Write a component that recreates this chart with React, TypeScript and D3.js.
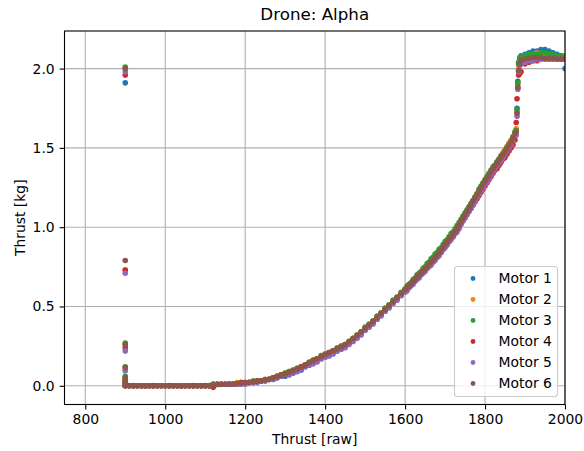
import React, { useEffect, useRef } from "react";
import * as d3 from "d3";

// raw thrust command values shared by all motors
const thrustRaw = [
  900, 910, 920, 930, 940, 950, 960, 970, 980, 990, 1000, 1010, 1020, 1030, 1040, 1050, 1060, 1070, 1080, 1090, 1100, 1110,
  1120, 1130, 1140, 1150, 1160, 1170, 1180, 1190, 1200, 1210, 1220, 1230, 1240, 1250, 1260, 1270, 1280, 1290, 1300,
  1310, 1320, 1330, 1340, 1350, 1360, 1370, 1380, 1390, 1400, 1410, 1420, 1430, 1440, 1450, 1460, 1470, 1480, 1490, 1500,
  1510, 1520, 1530, 1540, 1550, 1560, 1570, 1580, 1590, 1600,
  1605, 1610, 1615, 1620, 1625, 1630, 1635, 1640, 1645, 1650, 1655, 1660, 1665, 1670, 1675, 1680, 1685, 1690, 1695, 1700,
  1705, 1710, 1715, 1720, 1725, 1730, 1735, 1740, 1745, 1750, 1755, 1760, 1765, 1770, 1775, 1780, 1785, 1790, 1795, 1800,
  1805, 1810, 1815, 1820, 1825, 1830, 1835, 1840, 1845, 1850, 1855, 1860, 1865, 1870, 1875,
  1890, 1900, 1910, 1920, 1930, 1940, 1950, 1960, 1970, 1980, 1990, 2000,
];

const motor1Kg = [
  0, 0, 0, 0, 0, 0, 0, 0, 0, 0, 0, 0, 0, 0, 0, 0, 0, 0, 0, 0, 0, 0,
  0.01, 0.01, 0.01, 0.01, 0.01, 0.01, 0.01, 0.02, 0.02, 0.02, 0.02, 0.03, 0.03, 0.03, 0.04, 0.04, 0.05, 0.06, 0.06,
  0.07, 0.08, 0.09, 0.1, 0.12, 0.13, 0.14, 0.16, 0.17, 0.18, 0.19, 0.21, 0.22, 0.23, 0.25, 0.27, 0.29, 0.31, 0.33, 0.35,
  0.37, 0.4, 0.42, 0.45, 0.47, 0.5, 0.52, 0.55, 0.57, 0.6,
  0.61, 0.63, 0.64, 0.65, 0.67, 0.68, 0.69, 0.71, 0.72, 0.74, 0.75, 0.76, 0.78, 0.79, 0.81, 0.82, 0.84, 0.85, 0.87, 0.89,
  0.9, 0.92, 0.94, 0.96, 0.98, 0.99, 1.01, 1.04, 1.06, 1.08, 1.1, 1.12, 1.14, 1.16, 1.18, 1.2, 1.23, 1.25, 1.27, 1.29,
  1.31, 1.33, 1.35, 1.37, 1.39, 1.41, 1.42, 1.44, 1.46, 1.48, 1.5, 1.52, 1.54, 1.56, 1.58,
  2.08, 2.09, 2.1, 2.11, 2.11, 2.12, 2.12, 2.11, 2.1, 2.09, 2.08, 2.0,
];
const motor2Kg = [
  0, 0, 0, 0, 0, 0, 0, 0, 0, 0, 0, 0, 0, 0, 0, 0, 0, 0, 0, 0, 0, 0,
  0.01, 0.01, 0.01, 0.01, 0.01, 0.01, 0.02, 0.02, 0.02, 0.02, 0.03, 0.03, 0.03, 0.04, 0.04, 0.05, 0.06, 0.07, 0.08,
  0.09, 0.1, 0.11, 0.12, 0.13, 0.14, 0.16, 0.17, 0.18, 0.2, 0.21, 0.22, 0.23, 0.25, 0.26, 0.28, 0.3, 0.32, 0.34, 0.36,
  0.38, 0.41, 0.43, 0.46, 0.48, 0.51, 0.53, 0.56, 0.58, 0.61,
  0.62, 0.63, 0.65, 0.66, 0.67, 0.69, 0.7, 0.71, 0.73, 0.74, 0.75, 0.77, 0.78, 0.8, 0.81, 0.82, 0.84, 0.86, 0.87, 0.89,
  0.91, 0.92, 0.94, 0.96, 0.97, 0.99, 1.01, 1.04, 1.06, 1.08, 1.1, 1.12, 1.14, 1.16, 1.19, 1.21, 1.23, 1.25, 1.27, 1.29,
  1.31, 1.33, 1.35, 1.37, 1.39, 1.41, 1.43, 1.45, 1.47, 1.49, 1.51, 1.53, 1.55, 1.57, 1.6,
  2.07, 2.08, 2.08, 2.09, 2.1, 2.09, 2.08, 2.08, 2.08, 2.07, 2.07, 2.07,
];
const motor3Kg = [
  0, 0, 0, 0, 0, 0, 0, 0, 0, 0, 0, 0, 0, 0, 0, 0, 0, 0, 0, 0, 0, 0,
  0.01, 0.01, 0.01, 0.01, 0.01, 0.01, 0.01, 0.02, 0.02, 0.02, 0.03, 0.03, 0.03, 0.04, 0.04, 0.05, 0.06, 0.07, 0.08,
  0.09, 0.1, 0.11, 0.12, 0.13, 0.15, 0.16, 0.17, 0.19, 0.2, 0.21, 0.22, 0.24, 0.25, 0.26, 0.28, 0.3, 0.32, 0.34, 0.37,
  0.39, 0.41, 0.44, 0.46, 0.49, 0.51, 0.54, 0.56, 0.59, 0.61,
  0.63, 0.64, 0.65, 0.67, 0.68, 0.7, 0.71, 0.72, 0.74, 0.75, 0.77, 0.78, 0.8, 0.81, 0.83, 0.84, 0.86, 0.87, 0.89, 0.91,
  0.92, 0.94, 0.96, 0.97, 0.99, 1.01, 1.03, 1.05, 1.07, 1.09, 1.11, 1.13, 1.15, 1.17, 1.19, 1.21, 1.24, 1.26, 1.28, 1.3,
  1.32, 1.34, 1.36, 1.38, 1.39, 1.41, 1.43, 1.45, 1.46, 1.48, 1.5, 1.52, 1.54, 1.57, 1.6,
  2.07, 2.08, 2.09, 2.09, 2.09, 2.1, 2.1, 2.09, 2.09, 2.08, 2.08, 2.08,
];
const motor4Kg = [
  0, 0, 0, 0, 0, 0, 0, 0, 0, 0, 0, 0, 0, 0, 0, 0, 0, 0, 0, 0, 0, 0,
  -0.01, 0.01, 0.01, 0.01, 0.01, 0.01, 0.01, 0.02, 0.02, 0.02, 0.02, 0.03, 0.03, 0.04, 0.04, 0.05, 0.06, 0.07, 0.07,
  0.08, 0.09, 0.1, 0.12, 0.13, 0.14, 0.16, 0.17, 0.18, 0.19, 0.21, 0.22, 0.23, 0.24, 0.26, 0.27, 0.29, 0.31, 0.33, 0.36,
  0.38, 0.4, 0.43, 0.45, 0.48, 0.5, 0.53, 0.55, 0.58, 0.6,
  0.61, 0.62, 0.64, 0.65, 0.66, 0.68, 0.69, 0.7, 0.72, 0.73, 0.74, 0.76, 0.77, 0.78, 0.8, 0.81, 0.83, 0.84, 0.86, 0.88,
  0.89, 0.91, 0.93, 0.94, 0.96, 0.98, 1.0, 1.02, 1.04, 1.06, 1.08, 1.1, 1.12, 1.14, 1.16, 1.18, 1.2, 1.22, 1.24, 1.26,
  1.28, 1.3, 1.32, 1.34, 1.36, 1.37, 1.39, 1.41, 1.43, 1.44, 1.46, 1.48, 1.5, 1.52, 1.55,
  1.98, 2.03, 2.04, 2.05, 2.05, 2.06, 2.06, 2.06, 2.06, 2.06, 2.06, 2.06,
];
const motor5Kg = [
  0, 0, 0, 0, 0, 0, 0, 0, 0, 0, 0, 0, 0, 0, 0, 0, 0, 0, 0, 0, 0, 0,
  0.01, 0.01, 0.01, 0.01, 0.01, 0.01, 0.01, 0.01, 0.01, 0.02, 0.02, 0.02, 0.03, 0.03, 0.04, 0.04, 0.05, 0.06, 0.07,
  0.07, 0.08, 0.09, 0.1, 0.12, 0.13, 0.14, 0.15, 0.17, 0.18, 0.19, 0.2, 0.22, 0.23, 0.24, 0.26, 0.28, 0.3, 0.32, 0.35,
  0.37, 0.39, 0.42, 0.44, 0.47, 0.49, 0.52, 0.54, 0.57, 0.59,
  0.6, 0.62, 0.63, 0.64, 0.66, 0.67, 0.68, 0.7, 0.71, 0.72, 0.74, 0.75, 0.76, 0.78, 0.79, 0.81, 0.82, 0.84, 0.86, 0.87,
  0.89, 0.91, 0.92, 0.94, 0.96, 0.97, 0.99, 1.02, 1.04, 1.06, 1.08, 1.1, 1.12, 1.14, 1.16, 1.19, 1.21, 1.23, 1.25, 1.27,
  1.29, 1.31, 1.33, 1.35, 1.37, 1.39, 1.41, 1.42, 1.44, 1.46, 1.48, 1.5, 1.52, 1.55, 1.58,
  2.03, 2.04, 2.05, 2.05, 2.06, 2.06, 2.06, 2.06, 2.06, 2.06, 2.06, 2.06,
];
const motor6Kg = [
  0, 0, 0.001, 0, 0, -0.001, 0, 0.001, 0, 0, 0, 0.001, 0, 0, -0.001, 0, 0, 0.001, 0, 0, 0.001, 0.002,
  0.007, 0.008, 0.009, 0.01, 0.011, 0.012, 0.014, 0.016, 0.019, 0.022, 0.025, 0.028, 0.032, 0.037, 0.043, 0.05, 0.058, 0.066, 0.075,
  0.085, 0.095, 0.105, 0.117, 0.13, 0.143, 0.156, 0.17, 0.183, 0.196, 0.208, 0.22, 0.232, 0.244, 0.259, 0.277, 0.298, 0.318, 0.34, 0.362,
  0.384, 0.406, 0.43, 0.455, 0.48, 0.505, 0.53, 0.555, 0.58, 0.605,
  0.618, 0.631, 0.644, 0.657, 0.67, 0.684, 0.697, 0.711, 0.724, 0.738, 0.752, 0.766, 0.78, 0.794, 0.808, 0.822, 0.839, 0.856, 0.873, 0.89,
  0.906, 0.923, 0.94, 0.956, 0.973, 0.99, 1.012, 1.035, 1.056, 1.078, 1.099, 1.12, 1.141, 1.163, 1.184, 1.205, 1.226, 1.248, 1.269, 1.29,
  1.31, 1.33, 1.349, 1.368, 1.387, 1.405, 1.423, 1.44, 1.458, 1.476, 1.496, 1.515, 1.537, 1.56, 1.59,
  2.05, 2.06, 2.065, 2.07, 2.07, 2.07, 2.065, 2.065, 2.065, 2.06, 2.06, 2.06,
];

// fast climb to saturation
const jumpRaw = [1878, 1880, 1882, 1884, 1887];
const motor1Jump = [1.61, 1.75, 1.92, 2.04, 2.07];
const motor2Jump = [1.62, 1.72, 1.9, 2.02, 2.05];
const motor3Jump = [1.61, 1.74, 1.91, 2.03, 2.06];
const motor4Jump = [1.66, 1.81, 1.88, 1.96, 1.97];
const motor5Jump = [1.58, 1.7, 1.87, 1.98, 2.02];
const motor6Jump = [1.6, 1.72, 1.88, 1.99, 2.03];

// start-up readings at raw 900
const spikeRaw = 900;
const motor1Spikes = [1.91, 0.02, 0.01];
const motor2Spikes = [2.0, 0.73, 0.26, 0.1, 0.03];
const motor3Spikes = [2.01, 0.27, 0.12, 0.06, 0.02];
const motor4Spikes = [1.96, 0.73, 0.24, 0.05, 0.01];
const motor5Spikes = [1.98, 0.71, 0.22, 0.095, 0.03];
const motor6Spikes = [2.0, 0.79, 0.26, 0.115, 0.05, 0.04, 0.025, 0.012];

const motorNames = ["Motor 1", "Motor 2", "Motor 3", "Motor 4", "Motor 5", "Motor 6"];
const motorColors = ["#1f77b4", "#ff7f0e", "#2ca02c", "#d62728", "#9467bd", "#8c564b"];
const motorKg = [motor1Kg, motor2Kg, motor3Kg, motor4Kg, motor5Kg, motor6Kg];
const motorJump = [motor1Jump, motor2Jump, motor3Jump, motor4Jump, motor5Jump, motor6Jump];
const motorSpikes = [motor1Spikes, motor2Spikes, motor3Spikes, motor4Spikes, motor5Spikes, motor6Spikes];

const xTicks = [800, 1000, 1200, 1400, 1600, 1800, 2000];
const yTicks = [0, 0.5, 1.0, 1.5, 2.0];

const width = 584;
const height = 451;
const font = "DejaVu Sans, sans-serif";

export default function App() {
  const ref = useRef<SVGSVGElement>(null);

  useEffect(() => {
    const svg = d3.select(ref.current);
    svg.selectAll("*").remove();

    const margin = { top: 31, right: 19, bottom: 46.5, left: 64.5 };
    const innerWidth = width - margin.left - margin.right;
    const innerHeight = height - margin.top - margin.bottom;

    const x = d3.scaleLinear().domain([748, 2000]).range([0, innerWidth]);
    const y = d3.scaleLinear().domain([-0.118, 2.237]).range([innerHeight, 0]);

    svg.append("rect").attr("width", width).attr("height", height).attr("fill", "#fff");

    const g = svg.append("g").attr("transform", `translate(${margin.left},${margin.top})`);

    g.append("clipPath")
      .attr("id", "plot-clip")
      .append("rect")
      .attr("width", innerWidth)
      .attr("height", innerHeight);

    // grid
    g.append("g")
      .selectAll("line")
      .data(xTicks)
      .join("line")
      .attr("x1", (d) => x(d))
      .attr("x2", (d) => x(d))
      .attr("y1", 0)
      .attr("y2", innerHeight)
      .attr("stroke", "#b0b0b0")
      .attr("stroke-width", 1.1);
    g.append("g")
      .selectAll("line")
      .data(yTicks)
      .join("line")
      .attr("x1", 0)
      .attr("x2", innerWidth)
      .attr("y1", (d) => y(d))
      .attr("y2", (d) => y(d))
      .attr("stroke", "#b0b0b0")
      .attr("stroke-width", 1.1);

    // points
    const plot = g.append("g").attr("clip-path", "url(#plot-clip)");
    motorNames.forEach((name, i) => {
      const pts: [number, number][] = [
        ...thrustRaw.map((r, j) => [r, motorKg[i][j]] as [number, number]),
        ...jumpRaw.map((r, j) => [r, motorJump[i][j]] as [number, number]),
        ...motorSpikes[i].map((v) => [spikeRaw, v] as [number, number]),
      ];
      plot
        .append("g")
        .selectAll("circle")
        .data(pts)
        .join("circle")
        .attr("cx", (d) => x(d[0]))
        .attr("cy", (d) => y(d[1]))
        .attr("r", 2.8)
        .attr("fill", motorColors[i]);
    });

    // axes
    const xAxis = g
      .append("g")
      .attr("transform", `translate(0,${innerHeight})`)
      .call(d3.axisBottom(x).tickValues(xTicks).tickFormat(d3.format("d")).tickSize(4.9).tickPadding(4.9));
    const yAxis = g
      .append("g")
      .call(d3.axisLeft(y).tickValues(yTicks).tickFormat(d3.format(".1f")).tickSize(4.9).tickPadding(4.9));
    [xAxis, yAxis].forEach((a) => {
      a.select(".domain").remove();
      a.selectAll("line").attr("stroke", "#000").attr("stroke-width", 1.1);
      a.selectAll("text").attr("font-family", font).attr("font-size", 13.9).attr("fill", "#000");
    });

    // frame
    g.append("rect")
      .attr("width", innerWidth)
      .attr("height", innerHeight)
      .attr("fill", "none")
      .attr("stroke", "#000")
      .attr("stroke-width", 1.1);

    // labels
    svg.append("text")
      .attr("x", margin.left + innerWidth / 2)
      .attr("y", 20)
      .attr("text-anchor", "middle")
      .attr("font-family", font)
      .attr("font-size", 16.7)
      .text("Drone: Alpha");
    svg.append("text")
      .attr("x", margin.left + innerWidth / 2)
      .attr("y", 444)
      .attr("text-anchor", "middle")
      .attr("font-family", font)
      .attr("font-size", 13.9)
      .text("Thrust [raw]");
    svg.append("text")
      .attr("transform", `translate(25,${margin.top + innerHeight / 2}) rotate(-90)`)
      .attr("text-anchor", "middle")
      .attr("font-family", font)
      .attr("font-size", 13.9)
      .text("Thrust [kg]");

    // legend
    const lg = svg.append("g").attr("transform", "translate(454.5,266.5)");
    lg.append("rect")
      .attr("width", 103)
      .attr("height", 130)
      .attr("rx", 3)
      .attr("fill", "#fff")
      .attr("fill-opacity", 0.8)
      .attr("stroke", "#cccccc")
      .attr("stroke-width", 1.1);
    const items = lg
      .selectAll("g.item")
      .data(motorNames)
      .join("g")
      .attr("class", "item")
      .attr("transform", (d, i) => `translate(0,${12 + i * 21})`);
    items.append("circle").attr("cx", 18.5).attr("r", 2.4).attr("fill", (d, i) => motorColors[i]);
    items.append("text")
      .attr("x", 44)
      .attr("dy", "0.35em")
      .attr("font-family", font)
      .attr("font-size", 13.9)
      .text((d) => d);
  }, []);

  return (
    <svg
      ref={ref}
      width={width}
      height={height}
      style={{ position: "absolute", left: 0, top: 0 }}
    />
  );
}
